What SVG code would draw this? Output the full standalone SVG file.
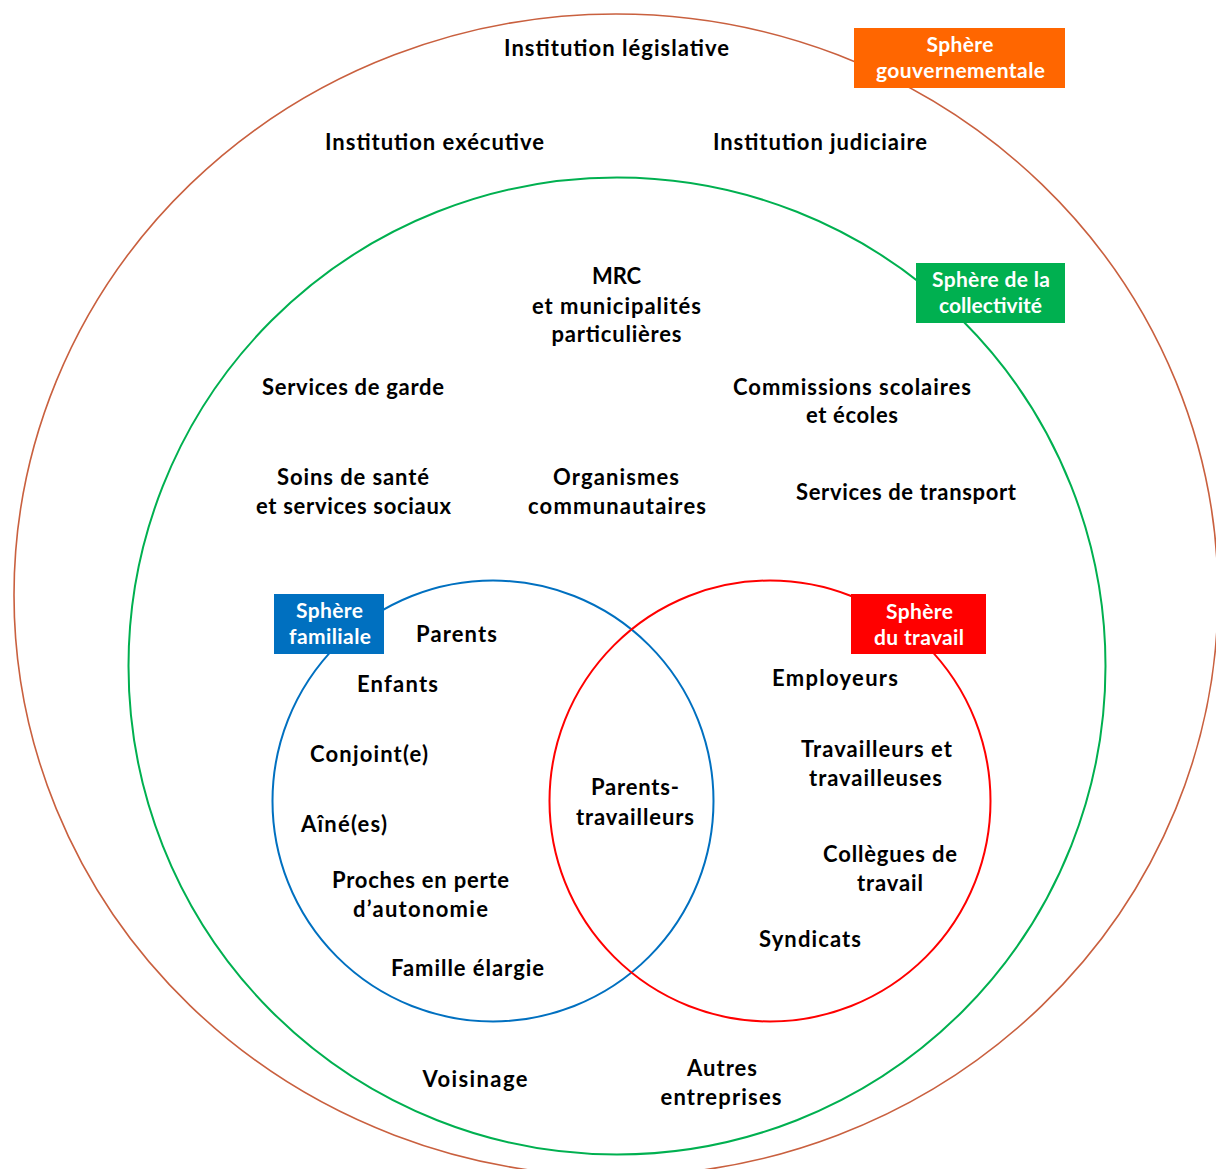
<svg xmlns="http://www.w3.org/2000/svg" width="1216" height="1169" viewBox="0 0 1216 1169">
<style>
  .t { font-family: Lato, "Open Sans", "DejaVu Sans", sans-serif; font-size: 22px; font-weight: bold; fill: #000; text-anchor: middle; }
  .w { font-family: Lato, "Open Sans", "DejaVu Sans", sans-serif; font-size: 21px; font-weight: bold; fill: #fff; text-anchor: middle; }
  .ring { fill: none; }
</style>
<rect x="0" y="0" width="1216" height="1169" fill="#fff"/>
<g id="connectors"></g>
<g id="sphere-gouvernementale">
  <ellipse class="ring" cx="616" cy="595" rx="602" ry="581" stroke="#C9603F" stroke-width="1.6"/>
</g>
<g id="sphere-collectivite">
  <circle class="ring" cx="617" cy="666" r="488.5" stroke="#00B050" stroke-width="2"/>
</g>
<g id="sphere-familiale">
  <circle class="ring" cx="493" cy="801" r="220.5" stroke="#0070C0" stroke-width="2"/>
</g>
<g id="sphere-travail">
  <circle class="ring" cx="770" cy="801" r="220.5" stroke="#FF0000" stroke-width="2"/>
</g>
<g id="label-gouvernementale">
  <rect x="854" y="28" width="211" height="60" fill="#FF6600"/>
  <text class="w" x="960" y="52" textLength="67">Sphère</text>
  <text class="w" x="960.5" y="78" textLength="169">gouvernementale</text>
</g>
<g id="label-collectivite">
  <rect x="916" y="263" width="149" height="60" fill="#00B050"/>
  <text class="w" x="991" y="287" textLength="118">Sphère de la</text>
  <text class="w" x="990.5" y="313" textLength="103">collectivité</text>
</g>
<g id="label-familiale">
  <rect x="274" y="594" width="110" height="60" fill="#0070C0"/>
  <text class="w" x="329.5" y="618" textLength="67">Sphère</text>
  <text class="w" x="330" y="644" textLength="82">familiale</text>
</g>
<g id="label-travail">
  <rect x="851" y="594" width="135" height="60" fill="#FF0000"/>
  <text class="w" x="919.5" y="619" textLength="67">Sphère</text>
  <text class="w" x="919" y="645" textLength="90">du travail</text>
</g>
<g id="institution-legislative"><text class="t" x="616.5" y="56" textLength="225">Institution législative</text></g>
<g id="institution-executive"><text class="t" x="434.5" y="150" textLength="219">Institution exécutive</text></g>
<g id="institution-judiciaire"><text class="t" x="820" y="150" textLength="214">Institution judiciaire</text></g>
<g id="mrc">
  <text class="t" x="616.5" y="284" textLength="49">MRC</text>
  <text class="t" x="616.5" y="314" textLength="169">et municipalités</text>
  <text class="t" x="616.5" y="342" textLength="130">particulières</text>
</g>
<g id="services-garde"><text class="t" x="353" y="395" textLength="182">Services de garde</text></g>
<g id="soins-sante">
  <text class="t" x="353" y="485" textLength="152">Soins de santé</text>
  <text class="t" x="353.5" y="514" textLength="195">et services sociaux</text>
</g>
<g id="organismes">
  <text class="t" x="616" y="485" textLength="126">Organismes</text>
  <text class="t" x="617" y="514" textLength="178">communautaires</text>
</g>
<g id="commissions-scolaires">
  <text class="t" x="852" y="395" textLength="238">Commissions scolaires</text>
  <text class="t" x="852" y="423" textLength="92">et écoles</text>
</g>
<g id="services-transport"><text class="t" x="906" y="500" textLength="220">Services de transport</text></g>
<g id="parents"><text class="t" x="456.5" y="642" textLength="81">Parents</text></g>
<g id="enfants"><text class="t" x="397.5" y="692" textLength="81">Enfants</text></g>
<g id="conjoint"><text class="t" x="369" y="762" textLength="118">Conjoint(e)</text></g>
<g id="aines"><text class="t" x="344" y="832" textLength="86">Aîné(es)</text></g>
<g id="proches">
  <text class="t" x="420.5" y="888" textLength="177">Proches en perte</text>
  <text class="t" x="420.5" y="917" textLength="135">d’autonomie</text>
</g>
<g id="famille-elargie"><text class="t" x="467.5" y="976" textLength="153">Famille élargie</text></g>
<g id="parents-travailleurs">
  <text class="t" x="635" y="795" textLength="88">Parents-</text>
  <text class="t" x="635" y="825" textLength="118">travailleurs</text>
</g>
<g id="employeurs"><text class="t" x="835" y="686" textLength="126">Employeurs</text></g>
<g id="travailleurs">
  <text class="t" x="876.5" y="757" textLength="151">Travailleurs et</text>
  <text class="t" x="875.5" y="786" textLength="133">travailleuses</text>
</g>
<g id="collegues">
  <text class="t" x="890" y="862" textLength="134">Collègues de</text>
  <text class="t" x="890" y="891" textLength="66">travail</text>
</g>
<g id="syndicats"><text class="t" x="810" y="947" textLength="102">Syndicats</text></g>
<g id="voisinage"><text class="t" x="475" y="1087" textLength="105">Voisinage</text></g>
<g id="autres-entreprises">
  <text class="t" x="722" y="1076" textLength="70">Autres</text>
  <text class="t" x="721" y="1105" textLength="121">entreprises</text>
</g>
</svg>
